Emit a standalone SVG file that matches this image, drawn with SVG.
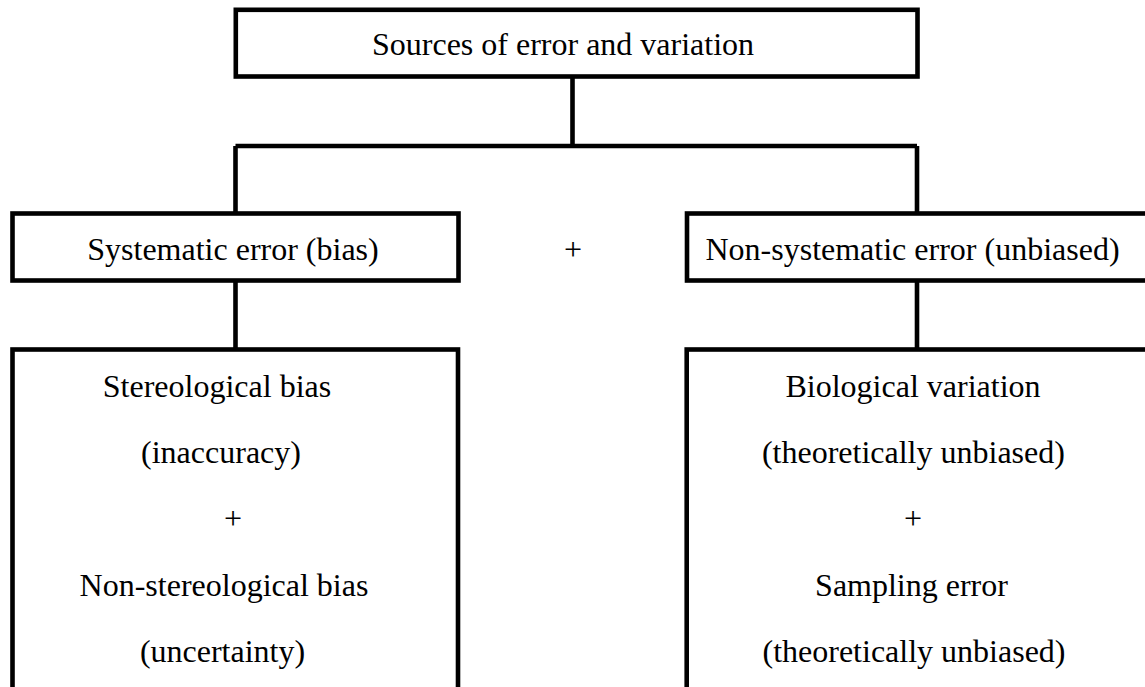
<svg xmlns="http://www.w3.org/2000/svg" width="1145" height="687" viewBox="0 0 1145 687">
<style>
.box{fill:#fff;stroke:#000;stroke-width:4.6}
.ln{fill:none;stroke:#000;stroke-width:4.6}
text{font-family:"Liberation Serif","Times New Roman",serif;font-size:32px;fill:#000}
.c{text-anchor:middle}
</style>
<rect width="1145" height="687" fill="#fff"/>
<g id="connectors">
<path class="ln" d="M572.5 76.5V146M235.5 146H917M235.5 146V213.5M917 146V213.5"/>
<path class="ln" d="M235.5 280.5V349.5M917 280.5V349.5"/>
</g>
<g id="root">
<rect class="box" x="235.8" y="9.8" width="681.7" height="66.7"/>
<text x="372" y="55">Sources of error and variation</text>
</g>
<g id="systematic">
<rect class="box" x="12.5" y="213.5" width="446" height="67"/>
<text class="c" x="233" y="260">Systematic error (bias)</text>
</g>
<g id="plus-mid">
<text class="c" x="573" y="260">+</text>
</g>
<g id="nonsystematic">
<rect class="box" x="687" y="213.5" width="462" height="67"/>
<text class="c" x="912.5" y="260">Non-systematic error (unbiased)</text>
</g>
<g id="systematic-detail">
<rect class="box" x="12.5" y="349.5" width="445.5" height="360"/>
<text class="c" x="217" y="397">Stereological bias</text>
<text class="c" x="221" y="462.5">(inaccuracy)</text>
<text class="c" x="233" y="529">+</text>
<text class="c" x="224" y="596">Non-stereological bias</text>
<text class="c" x="222.5" y="662">(uncertainty)</text>
</g>
<g id="nonsystematic-detail">
<rect class="box" x="686.7" y="349.5" width="462" height="360"/>
<text class="c" x="913" y="397">Biological variation</text>
<text class="c" x="913.4" y="462.5">(theoretically unbiased)</text>
<text class="c" x="913" y="529">+</text>
<text class="c" x="911.5" y="596">Sampling error</text>
<text class="c" x="914" y="662">(theoretically unbiased)</text>
</g>
</svg>
